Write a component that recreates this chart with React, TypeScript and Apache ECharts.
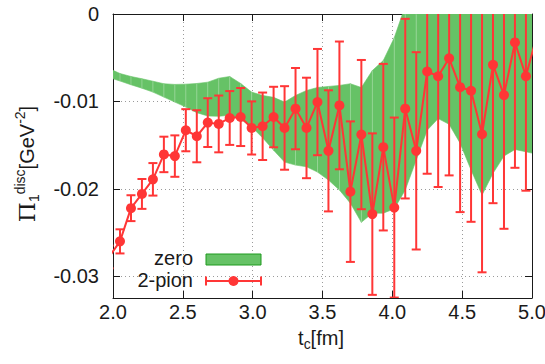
import React, { useEffect, useRef } from 'react';
import * as echarts from 'echarts';

// t_c values (fm) of the data points (first and last lie just outside the frame)
const tValues = [
  1.9716, 2.0501, 2.1287, 2.2072, 2.2858, 2.3643, 2.4429, 2.5214, 2.6000, 2.6785,
  2.7571, 2.8356, 2.9142, 2.9927, 3.0713, 3.1498, 3.2284, 3.3069, 3.3855, 3.4640,
  3.5426, 3.6211, 3.6997, 3.7782, 3.8568, 3.9353, 4.0139, 4.0924, 4.1710, 4.2495,
  4.3281, 4.4066, 4.4852, 4.5637, 4.6423, 4.7208, 4.7994, 4.8779, 4.9565, 5.0350,
];

// 2-pion central values
const pionValues = [
  -0.0278, -0.02602, -0.02222, -0.02059, -0.01892, -0.01607, -0.01626, -0.0133, -0.01399, -0.01243,
  -0.01258, -0.0119, -0.01179, -0.01304, -0.01285, -0.01179, -0.01304, -0.01083, -0.01304, -0.01008,
  -0.01566, -0.01046, -0.02033, -0.0138, -0.0229, -0.01524, -0.02215, -0.01083, -0.01566, -0.00658,
  -0.00712, -0.00507, -0.00837, -0.00878, -0.01376, -0.00582, -0.00928, -0.00325, -0.00712, -0.00245,
];

// 2-pion symmetric errors
const pionErrors = [
  0.0013, 0.00138, 0.00148, 0.00171, 0.00186, 0.00203, 0.00237, 0.00241, 0.00298, 0.00279,
  0.00325, 0.00308, 0.00332, 0.00304, 0.00386, 0.00346, 0.00478, 0.00465, 0.00575, 0.00608,
  0.00693, 0.00731, 0.00804, 0.00854, 0.00924, 0.00953, 0.0103, 0.01028, 0.01129, 0.0117,
  0.01268, 0.0134, 0.0143, 0.015, 0.0158, 0.01583, 0.0153, 0.01435, 0.0131, 0.013,
];

// "zero" band: upper and lower edges at the same t values
const zeroUpper = [
  -0.00624, -0.00681, -0.00715, -0.00741, -0.00769, -0.00798, -0.00806, -0.00803, -0.00795, -0.0078,
  -0.00735, -0.00715, -0.00795, -0.00894, -0.00932, -0.00954, -0.01008, -0.00932, -0.00875, -0.00841,
  -0.00829, -0.00817, -0.00798, -0.00841, -0.00647, -0.00533, -0.00271, 0.00093, 0.004, 0.004,
  0.004, 0.004, 0.004, 0.004, 0.004, 0.004, 0.004, 0.004, 0.004, 0.004,
];
const zeroLower = [
  -0.00727, -0.00767, -0.0081, -0.00849, -0.00894, -0.00951, -0.01008, -0.01065, -0.01129, -0.01167,
  -0.01171, -0.01159, -0.01205, -0.01293, -0.01416, -0.01558, -0.01695, -0.01729, -0.01748, -0.01809,
  -0.019, -0.02014, -0.02165, -0.02384, -0.02279, -0.02279, -0.0223, -0.02014, -0.01672, -0.0133,
  -0.01197, -0.01262, -0.01478, -0.01786, -0.02071, -0.01823, -0.01626, -0.0155, -0.01577, -0.01604,
];

const yTicks = [-0.03, -0.02, -0.01, 0];
const xMin = 2.0;
const xMax = 5.0;
const xStep = 0.5;
const yMin = -0.0325;
const yMax = 0;

const RED = '#ff3636';
const GREEN = '#66c266';
const GREEN_EDGE = '#1f9a1f';
const INK = '#1a1a1a';
const FONT = "'Liberation Sans', Arial, Helvetica, sans-serif";

export default function App() {
  const ref = useRef<HTMLDivElement>(null);

  useEffect(() => {
    const chart = echarts.init(ref.current!, null, { renderer: 'svg' });

    const bandSegments = tValues.slice(0, -1).map((t, i) => [
      t, tValues[i + 1], zeroUpper[i], zeroLower[i], zeroUpper[i + 1], zeroLower[i + 1],
    ]);
    const bandVertices = tValues.map((t, i) => [t, zeroUpper[i], zeroLower[i]]);
    const errData = tValues.map((t, i) => [t, pionValues[i] - pionErrors[i], pionValues[i] + pionErrors[i]]);
    const lineData = tValues.map((t, i) => [t, pionValues[i]]);

    const axisLineStyle = { color: INK, width: 1 };

    const option: any = {
      animation: false,
      grid: { left: 113, right: 13, top: 14, bottom: 66, containLabel: false, outerBoundsMode: 'none' },
      xAxis: [
        {
          type: 'value', min: xMin, max: xMax, interval: xStep, position: 'bottom',
          axisLine: { show: true, onZero: false, lineStyle: axisLineStyle },
          axisTick: { show: true, inside: true, length: 7, lineStyle: axisLineStyle },
          axisLabel: {
            show: true, fontSize: 20, color: INK, fontFamily: FONT, margin: 4,
            formatter: (v: number) => v.toFixed(1),
          },
          splitLine: { show: true, lineStyle: { color: '#9a9a9a', type: [1, 3], width: 1 } },
        },
        {
          type: 'value', min: xMin, max: xMax, interval: xStep, position: 'top',
          axisLine: { show: true, onZero: false, lineStyle: axisLineStyle },
          axisTick: { show: true, inside: true, length: 7, lineStyle: axisLineStyle },
          axisLabel: { show: false },
          splitLine: { show: false },
        },
      ],
      yAxis: [
        {
          type: 'value', min: yMin, max: yMax, position: 'left',
          axisLine: { show: true, onZero: false, lineStyle: axisLineStyle },
          axisTick: { show: true, inside: true, length: 7, lineStyle: axisLineStyle, customValues: yTicks },
          axisLabel: {
            show: true, fontSize: 20, color: INK, fontFamily: FONT, margin: 14,
            customValues: yTicks, showMaxLabel: true, showMinLabel: true,
            formatter: (v: number) => (Math.abs(v) < 1e-9 ? '0' : v.toFixed(2)),
          },
          splitLine: { show: true, lineStyle: { color: '#9a9a9a', type: [1, 3], width: 1 } },
        },
        {
          type: 'value', min: yMin, max: yMax, position: 'right',
          axisLine: { show: true, onZero: false, lineStyle: axisLineStyle },
          axisTick: { show: true, inside: true, length: 7, lineStyle: axisLineStyle, customValues: yTicks },
          axisLabel: { show: false, customValues: yTicks },
          splitLine: { show: false },
        },
      ],
      series: [
        {
          type: 'custom',
          name: 'zero',
          clip: true,
          z: 1,
          data: bandSegments,
          encode: { x: [0, 1], y: [2, 3, 4, 5] },
          renderItem: (params: any, api: any) => {
            const x0 = api.value(0);
            const x1 = api.value(1);
            const p1 = api.coord([x0, api.value(2)]);
            const p2 = api.coord([x1, api.value(4)]);
            const p3 = api.coord([x1, api.value(5)]);
            const p4 = api.coord([x0, api.value(3)]);
            return {
              type: 'polygon',
              shape: { points: [p1, p2, p3, p4] },
              style: { fill: GREEN, stroke: GREEN, lineWidth: 0.6 },
            };
          },
        },
        {
          type: 'custom',
          name: 'zero-stripes',
          clip: true,
          z: 2,
          data: bandVertices,
          encode: { x: 0, y: [1, 2] },
          renderItem: (params: any, api: any) => {
            const a = api.coord([api.value(0), api.value(1)]);
            const b = api.coord([api.value(0), api.value(2)]);
            return {
              type: 'line',
              shape: { x1: a[0], y1: a[1], x2: b[0], y2: b[1] },
              style: { stroke: 'rgba(255,255,255,0.28)', lineWidth: 1 },
            };
          },
        },
        {
          type: 'custom',
          name: '2-pion-err',
          clip: true,
          z: 3,
          data: errData,
          encode: { x: 0, y: [1, 2] },
          renderItem: (params: any, api: any) => {
            const lo = api.coord([api.value(0), api.value(1)]);
            const hi = api.coord([api.value(0), api.value(2)]);
            const w = 4.5;
            const st = { stroke: RED, lineWidth: 2 };
            return {
              type: 'group',
              children: [
                { type: 'line', shape: { x1: lo[0], y1: lo[1], x2: hi[0], y2: hi[1] }, style: st },
                { type: 'line', shape: { x1: lo[0] - w, y1: lo[1], x2: lo[0] + w, y2: lo[1] }, style: st },
                { type: 'line', shape: { x1: hi[0] - w, y1: hi[1], x2: hi[0] + w, y2: hi[1] }, style: st },
              ],
            };
          },
        },
        {
          type: 'line',
          name: '2-pion',
          clip: true,
          z: 4,
          data: lineData,
          symbol: 'circle',
          symbolSize: 10,
          showAllSymbol: true,
          lineStyle: { color: RED, width: 2 },
          itemStyle: { color: RED },
        },
      ],
      graphic: [
        {
          type: 'text', x: 321, y: 338, z: 10,
          style: {
            text: '{a|t}{s|c}{a|[fm]}',
            align: 'center', verticalAlign: 'middle',
            rich: {
              a: { fontSize: 20, fontFamily: FONT, fill: INK, lineHeight: 26, verticalAlign: 'middle' },
              s: { fontSize: 14, fontFamily: FONT, fill: INK, lineHeight: 14, verticalAlign: 'bottom' },
            },
          },
        },
        {
          type: 'text', x: 27, y: 164, rotation: Math.PI / 2, z: 10,
          style: {
            text: '{p|Π}{sub|1}{sup|disc}{m|[GeV}{sup|-2}{m|]}',
            align: 'center', verticalAlign: 'middle',
            rich: {
              p: { fontSize: 23, fontFamily: "'DejaVu Serif', serif", fill: INK, lineHeight: 28, verticalAlign: 'middle' },
              m: { fontSize: 20, fontFamily: FONT, fill: INK, lineHeight: 28, verticalAlign: 'middle' },
              sup: { fontSize: 14, fontFamily: FONT, fill: INK, lineHeight: 16, verticalAlign: 'top' },
              sub: { fontSize: 14, fontFamily: FONT, fill: INK, lineHeight: 16, verticalAlign: 'bottom' },
            },
          },
        },
        {
          type: 'text', x: 193, y: 258, z: 10,
          style: { text: 'zero', fontSize: 20, fontFamily: FONT, fill: INK, align: 'right', verticalAlign: 'middle' },
        },
        {
          type: 'rect', z: 10,
          shape: { x: 206, y: 254, width: 55, height: 11 },
          style: { fill: GREEN, stroke: GREEN_EDGE, lineWidth: 1 },
        },
        {
          type: 'text', x: 193, y: 280, z: 10,
          style: { text: '2-pion', fontSize: 20, fontFamily: FONT, fill: INK, align: 'right', verticalAlign: 'middle' },
        },
        {
          type: 'line', z: 10,
          shape: { x1: 206, y1: 281, x2: 261, y2: 281 },
          style: { stroke: RED, lineWidth: 2 },
        },
        {
          type: 'line', z: 10,
          shape: { x1: 206, y1: 276.5, x2: 206, y2: 285.5 },
          style: { stroke: RED, lineWidth: 2 },
        },
        {
          type: 'line', z: 10,
          shape: { x1: 261, y1: 276.5, x2: 261, y2: 285.5 },
          style: { stroke: RED, lineWidth: 2 },
        },
        {
          type: 'circle', z: 10,
          shape: { cx: 233.5, cy: 281, r: 5 },
          style: { fill: RED },
        },
      ],
    };

    chart.setOption(option);
    return () => chart.dispose();
  }, []);

  return (
    <div
      ref={ref}
      style={{ position: 'fixed', left: 0, top: 0, width: 545, height: 364, background: '#fff' }}
    />
  );
}
